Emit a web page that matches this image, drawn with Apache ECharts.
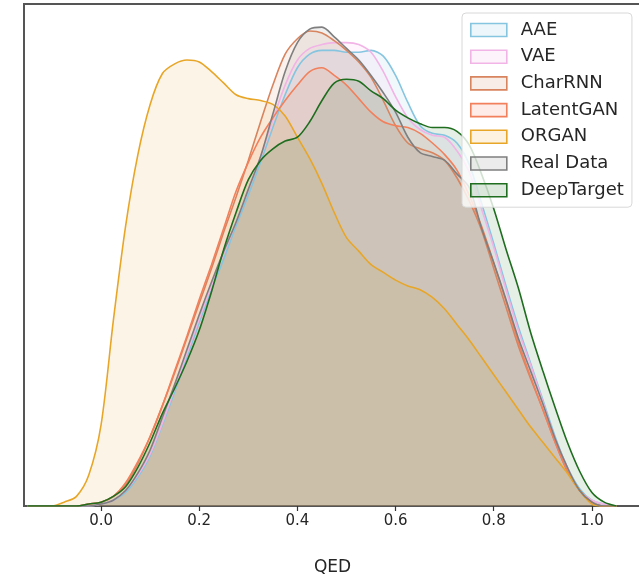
<!DOCTYPE html>
<html>
<head>
<meta charset="utf-8">
<script src="https://cdn.jsdelivr.net/npm/echarts@6/dist/echarts.min.js"></script>
<style>
  html, body { margin: 0; padding: 0; background: #fff; }
  #chart { width: 639px; height: 585px; }
</style>
</head>
<body>
<div id="chart"></div>
<script>
// QED grid, step 0.025 from -0.15 to 1.05
const qed = [];
for (let i = 0; i <= 48; i++) qed.push(+(-0.15 + i * 0.025).toFixed(3));

const xTicks = [0, 0.2, 0.4, 0.6, 0.8, 1.0];

// densities (one per qed point)
const aae = [0,0,0,0,0,0, 0.01,0.03,0.07,0.15,0.26,0.42,0.59,0.77,0.95,1.12,1.28,1.45,1.61,1.78,1.96,2.13,2.27,2.34,2.36,2.36,2.35,2.35,2.36,2.33,2.23,2.09,1.97,1.93,1.92,1.88,1.77,1.57,1.36,1.14,0.93,0.74,0.55,0.36,0.20,0.09,0.03,0.01,0];
const vae = [0,0,0,0,0,0, 0.01,0.03,0.08,0.16,0.27,0.43,0.61,0.79,0.97,1.14,1.31,1.47,1.64,1.81,2.00,2.18,2.31,2.37,2.39,2.40,2.40,2.39,2.35,2.25,2.12,2.01,1.95,1.92,1.91,1.84,1.73,1.54,1.34,1.12,0.91,0.73,0.54,0.35,0.20,0.08,0.03,0.01,0];
const charRnn = [0,0,0,0,0,0.01, 0.02,0.05,0.11,0.22,0.36,0.52,0.69,0.87,1.05,1.23,1.42,1.60,1.79,1.99,2.18,2.34,2.42,2.46,2.45,2.41,2.36,2.30,2.22,2.10,1.97,1.88,1.85,1.83,1.79,1.70,1.58,1.43,1.23,1.03,0.83,0.66,0.50,0.33,0.18,0.08,0.02,0,0];
const latentGan = [0,0,0,0,0,0.01, 0.02,0.05,0.12,0.23,0.36,0.52,0.70,0.88,1.07,1.25,1.44,1.63,1.78,1.91,2.01,2.10,2.18,2.25,2.27,2.23,2.18,2.11,2.04,1.99,1.97,1.96,1.93,1.88,1.82,1.74,1.61,1.45,1.26,1.06,0.85,0.67,0.50,0.33,0.18,0.08,0.02,0,0];
const organ = [0,0,0,0.02,0.05,0.16, 0.42,0.96,1.45,1.82,2.08,2.24,2.29,2.31,2.30,2.25,2.19,2.13,2.11,2.10,2.08,2.02,1.91,1.80,1.67,1.52,1.39,1.32,1.25,1.21,1.17,1.14,1.12,1.08,1.02,0.94,0.86,0.77,0.68,0.59,0.50,0.41,0.33,0.25,0.17,0.08,0.01,0,0];
const realData = [0,0,0,0,0,0, 0.01,0.03,0.08,0.17,0.29,0.46,0.63,0.81,0.99,1.16,1.32,1.47,1.64,1.81,2.03,2.25,2.40,2.47,2.48,2.43,2.37,2.31,2.23,2.14,2.04,1.91,1.83,1.81,1.79,1.72,1.65,1.44,1.26,1.07,0.87,0.70,0.53,0.35,0.20,0.08,0.02,0,0];
const deepTarget = [0,0,0,0,0,0.01, 0.02,0.05,0.10,0.20,0.33,0.48,0.61,0.75,0.91,1.11,1.33,1.52,1.69,1.79,1.85,1.89,1.91,1.99,2.10,2.19,2.21,2.20,2.15,2.11,2.05,2.01,1.98,1.96,1.96,1.94,1.87,1.72,1.54,1.33,1.13,0.90,0.70,0.51,0.33,0.18,0.07,0.02,0];

const names = ['AAE', 'VAE', 'CharRNN', 'LatentGAN', 'ORGAN', 'Real Data', 'DeepTarget'];
const values = [aae, vae, charRnn, latentGan, organ, realData, deepTarget];
const colors = ['#86c5e0', '#f2b3e6', '#d8845f', '#f2805c', '#e8a628', '#7f7f7f', '#1f6e1f'];

const chart = echarts.init(document.getElementById('chart'));

const series = names.map((n, k) => ({
  name: n,
  type: 'line',
  smooth: 0.3,
  showSymbol: false,
  data: qed.map((x, i) => [x, values[k][i]]),
  lineStyle: { color: colors[k], width: 1.6 },
  itemStyle: { color: colors[k] },
  areaStyle: { color: colors[k], opacity: 0.115 }
}));

chart.setOption({
  animation: false,
  grid: {
    left: 24, top: 4, width: 617, height: 502,
    outerBoundsMode: 'none',
    show: true, borderColor: '#555', borderWidth: 2, backgroundColor: 'transparent'
  },
  legend: {
    orient: 'vertical',
    left: 462, top: 13,
    padding: [8, 8, 8, 8],
    itemWidth: 36, itemHeight: 13, itemGap: 8.7,
    backgroundColor: 'rgba(255,255,255,0.8)',
    borderColor: '#d8d8d8', borderWidth: 1, borderRadius: 4,
    textStyle: { fontFamily: 'DejaVu Sans', fontSize: 18, color: '#262626', padding: [0, 0, 0, 9] },
    data: names.map((n, k) => ({
      name: n,
      icon: 'rect',
      itemStyle: { color: echarts.color.modifyAlpha(colors[k], 0.15), borderColor: colors[k], borderWidth: 1.6 }
    }))
  },
  xAxis: {
    type: 'value',
    min: -0.157, max: 1.1,
    name: 'QED',
    nameLocation: 'middle',
    nameGap: 53,
    nameTextStyle: { fontFamily: 'DejaVu Sans', fontSize: 17, color: '#262626' },
    axisLine: { show: true, lineStyle: { color: '#555', width: 2 } },
    axisTick: { show: true, length: 5, customValues: xTicks, lineStyle: { color: '#333', width: 1.2 } },
    axisLabel: {
      customValues: xTicks, margin: 8,
      fontFamily: 'DejaVu Sans', fontSize: 15, color: '#262626',
      formatter: v => v.toFixed(1)
    },
    splitLine: { show: false }
  },
  yAxis: {
    type: 'value', min: 0, max: 2.6,
    axisLine: { show: false }, axisTick: { show: false },
    axisLabel: { show: false }, splitLine: { show: false }
  },
  series: series
});
</script>
</body>
</html>
